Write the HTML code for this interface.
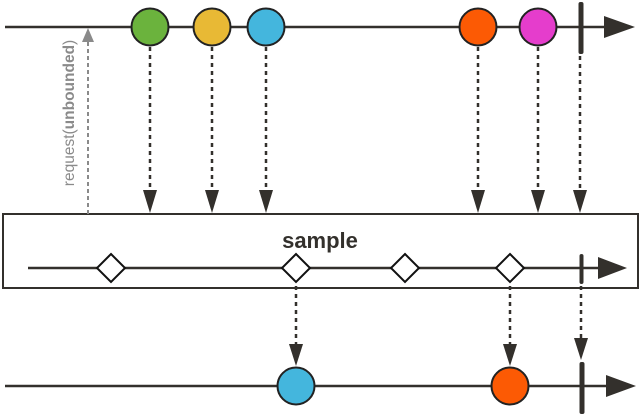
<!DOCTYPE html>
<html><head><style>body{margin:0;background:#fff}svg{display:block}</style></head><body>
<svg width="640" height="415" viewBox="0 0 640 415" xmlns="http://www.w3.org/2000/svg">
<g stroke="#33302c" stroke-width="2.5" fill="none">
<line x1="5" y1="27" x2="610" y2="27"/>
<line x1="28" y1="268" x2="602" y2="268"/>
<line x1="5" y1="386" x2="610" y2="386"/>
</g>
<g fill="#33302c">
<path d="M604,16 L635,27 L604,38 Z"/>
<path d="M598,257 L627,268 L598,279 Z"/>
<path d="M606,375 L636,386 L606,397 Z"/>
<rect x="578.5" y="2" width="5" height="52" rx="2"/>
<rect x="579.5" y="254" width="4" height="30" rx="2"/>
<rect x="579.5" y="362" width="5" height="52" rx="2"/>
</g>
<rect x="3" y="214" width="635" height="74" fill="none" stroke="#33302c" stroke-width="2"/>
<text x="320" y="248" text-anchor="middle" font-family="Liberation Sans, sans-serif" font-weight="bold" font-size="22" fill="#33302c">sample</text>
<g stroke="#33302c" stroke-width="2.5" stroke-dasharray="4,4" fill="none">
<line x1="150" y1="47" x2="150" y2="192"/>
<line x1="212" y1="47" x2="212" y2="192"/>
<line x1="266" y1="47" x2="266" y2="192"/>
<line x1="478" y1="47" x2="478" y2="192"/>
<line x1="538" y1="47" x2="538" y2="192"/>
<line x1="580" y1="56" x2="580" y2="192"/>
<line x1="296" y1="286" x2="296" y2="346"/>
<line x1="510" y1="286" x2="510" y2="346"/>
<line x1="581" y1="286" x2="581" y2="340"/>
</g>
<g fill="#33302c">
<path d="M143,190 L157,190 L150,213 Z"/>
<path d="M205,190 L219,190 L212,213 Z"/>
<path d="M259,190 L273,190 L266,213 Z"/>
<path d="M471,190 L485,190 L478,213 Z"/>
<path d="M531,190 L545,190 L538,213 Z"/>
<path d="M573,190 L587,190 L580,213 Z"/>
<path d="M289,344 L303,344 L296,366 Z"/>
<path d="M503,344 L517,344 L510,366 Z"/>
<path d="M574,338 L588,338 L581,360 Z"/>
</g>
<line x1="88" y1="214" x2="88" y2="42" stroke="#8a8a8a" stroke-width="2" stroke-dasharray="4,3"/>
<path d="M82,42 L94,42 L88,28 Z" fill="#8a8a8a"/>
<text transform="translate(74,113) rotate(-90)" text-anchor="middle" font-family="Liberation Sans, sans-serif" font-size="15.5" fill="#8a8a8a">request(<tspan font-weight="bold">unbounded</tspan>)</text>
<g stroke="#222" stroke-width="2">
<circle cx="150" cy="27" r="18.5" fill="#6bb33d"/>
<circle cx="212" cy="27" r="18.5" fill="#e8b935"/>
<circle cx="266" cy="27" r="18.5" fill="#44b6dd"/>
<circle cx="478" cy="27" r="18.5" fill="#fc5a04"/>
<circle cx="538" cy="27" r="18.5" fill="#e53dcc"/>
<circle cx="296" cy="386" r="18.5" fill="#44b6dd"/>
<circle cx="510" cy="386" r="18.5" fill="#fc5a04"/>
</g>
<g fill="#fff" stroke="#111" stroke-width="2">
<path d="M111,254 L125,268 L111,282 L97,268 Z"/>
<path d="M296,254 L310,268 L296,282 L282,268 Z"/>
<path d="M405,254 L419,268 L405,282 L391,268 Z"/>
<path d="M510,254 L524,268 L510,282 L496,268 Z"/>
</g>
</svg>
</body></html>
